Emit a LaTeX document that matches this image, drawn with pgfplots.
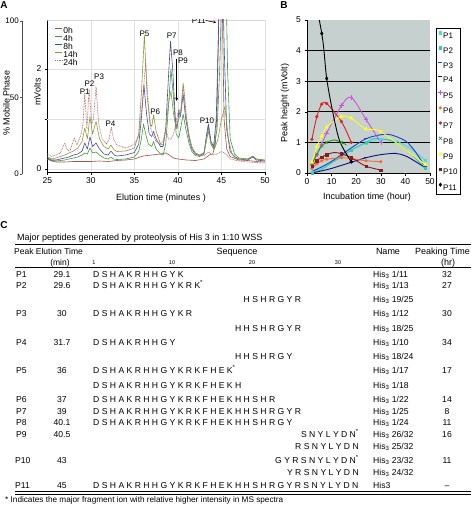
\documentclass[border=0pt]{standalone}
\usepackage{fontspec}
\setmainfont{Liberation Sans}
\usepackage{pgfplots}
\pgfplotsset{compat=1.18}
\usetikzlibrary{arrows.meta}
\pgfplotsset{/pgf/number format/assume math mode=true}
\definecolor{cA0}{HTML}{A0524D}
\definecolor{cA4}{HTML}{3C9C3C}
\definecolor{cA8}{HTML}{4848A8}
\definecolor{cA14}{HTML}{8C9C3C}
\definecolor{cA24}{HTML}{B86A6A}
\definecolor{bgB}{RGB}{197,208,207}
\definecolor{cP1}{HTML}{40E0E0}
\definecolor{cP2}{HTML}{33CCAA}
\definecolor{cP3}{HTML}{2040D0}
\definecolor{cP4}{HTML}{101080}
\definecolor{cP5}{HTML}{CC55DD}
\definecolor{cP6}{HTML}{FF6633}
\definecolor{cP7}{HTML}{E02020}
\definecolor{cP8}{HTML}{229922}
\definecolor{cP9}{HTML}{FFFF22}
\definecolor{cP10}{HTML}{8B1A1A}
\newcommand{\tf}{\fontsize{8.6}{10}\selectfont}
\newcommand{\hf}{\fontsize{9}{10}\selectfont}
\begin{document}
\begin{tikzpicture}
\path[use as bounding box] (0,0) rectangle (473pt,-506pt);

% ---------- Panel A: % Mobile Phase axis ----------
\begin{axis}[at={(22pt,-174pt)},anchor=south west,scale only axis,width=25pt,height=153pt,
  xmin=0,xmax=1,ymin=0,ymax=100,hide x axis,axis y line*=left,ytick={0,50,100},
  tick align=outside,major tick length=2pt,
  y axis line style={black!70,line width=0.8pt},tick style={black!70},
  yticklabel style={font=\fontsize{8}{9}\selectfont,inner sep=1pt}]
\end{axis}

% ---------- Panel A: chromatogram ----------
\begin{axis}[at={(47.3pt,-172pt)},anchor=south west,scale only axis,
  width=217.7pt,height=152pt,
  xmin=25,xmax=50,ymin=-0.06,ymax=2.98,
  xtick={25,30,35,40,45,50},ytick={0,2},
  extra y ticks={1},extra y tick labels={},extra y tick style={grid=major},
  axis x line*=bottom,axis y line*=left,
  axis line style={black,line width=0.8pt},
  tick align=outside,major tick length=2.5pt,tick style={black,line width=0.6pt},
  xmajorgrids,ymajorgrids,major grid style={gray!25,line width=0.5pt},
  tick label style={font=\fontsize{8.5}{10}\selectfont},
  legend style={at={(0.035,0.955)},anchor=north west,draw=none,fill=none,
    font=\fontsize{8.5}{8.5}\selectfont,row sep=0.6pt,inner sep=0pt,
    nodes={inner sep=0.6pt,text height=6.2pt,text depth=0pt}},
  legend cell align=left,
  legend image code/.code={\draw[#1] (0pt,2.5pt) -- (7pt,2.5pt);},
  every axis plot/.append style={line width=0.6pt,mark=none,line join=round}]
\draw[gray!30,line width=0.5pt] (rel axis cs:0,1) -- (rel axis cs:1,1) -- (rel axis cs:1,0);
\addplot[cA0] coordinates {(25,0.2)(25.5,0.16)(26,0.14)(27,0.14)(28,0.15)(29,0.15)(30,0.15)(31,0.16)(32,0.15)(33,0.17)(34,0.18)(35,0.2)(36,0.26)(36.5,0.27)(37,0.28)(38,0.3)(38.6,0.32)(39,0.28)(39.5,0.22)(40,0.2)(41,0.18)(42,0.17)(43,0.2)(43.6,0.28)(44,0.3)(44.3,0.5)(44.5,1.2)(44.7,3.2)(44.9,5)(45.1,3.2)(45.3,1.0)(45.6,0.4)(46,0.25)(47,0.18)(48,0.17)(49,0.15)(50,0.14)};
\addlegendentry{0h}
\addplot[cA4] coordinates {(25,0.2)(25.5,0.17)(26,0.16)(27,0.18)(27.5,0.2)(28,0.22)(28.5,0.24)(29,0.28)(29.3,0.32)(29.6,0.3)(29.9,0.42)(30.2,0.32)(30.6,0.34)(31,0.28)(31.5,0.22)(32,0.2)(32.3,0.24)(32.6,0.2)(33,0.19)(34,0.2)(35,0.24)(35.5,0.35)(35.8,0.6)(36.05,0.9)(36.3,0.7)(36.6,0.5)(37,0.45)(37.2,0.55)(37.5,0.4)(38,0.3)(38.3,0.28)(38.6,0.5)(38.9,1.2)(39.2,2.0)(39.5,1.4)(39.8,0.7)(40.1,0.62)(40.3,0.8)(40.6,1.1)(40.9,0.8)(41.3,0.5)(41.6,0.35)(42,0.27)(42.5,0.25)(43,0.3)(43.3,0.6)(43.5,0.85)(43.8,0.5)(44.1,0.4)(44.5,0.8)(44.8,2.0)(45.1,4)(45.4,5)(45.7,2)(46,0.6)(46.5,0.3)(47,0.22)(48,0.2)(48.6,0.25)(49,0.2)(50,0.18)};
\addlegendentry{4h}
\addplot[cA8] coordinates {(25,0.22)(25.5,0.18)(26,0.18)(27,0.22)(27.5,0.24)(28,0.28)(28.5,0.3)(29,0.36)(29.3,0.52)(29.6,0.4)(29.9,0.64)(30.2,0.45)(30.6,0.52)(31,0.4)(31.5,0.3)(32,0.28)(32.3,0.36)(32.7,0.28)(33,0.26)(34,0.28)(35,0.33)(35.5,0.5)(35.8,1.0)(36.1,1.68)(36.4,1.1)(36.7,0.7)(37,0.65)(37.2,0.75)(37.5,0.6)(38,0.45)(38.3,0.45)(38.6,0.8)(38.9,1.8)(39.15,2.55)(39.4,2.0)(39.7,1.0)(39.9,0.8)(40.1,1.15)(40.3,1.05)(40.6,1.5)(40.9,1.0)(41.3,0.6)(41.6,0.4)(42,0.3)(42.5,0.27)(43,0.32)(43.3,0.7)(43.5,0.9)(43.8,0.55)(44.1,0.45)(44.4,1.0)(44.7,3.0)(45.0,5)(45.3,2.5)(45.6,0.8)(46,0.35)(46.5,0.25)(47,0.2)(48,0.18)(48.6,0.24)(49,0.18)(50,0.16)};
\addlegendentry{8h}
\addplot[cA14] coordinates {(25,0.25)(25.5,0.2)(26,0.22)(27,0.28)(27.5,0.32)(28,0.36)(28.5,0.42)(29,0.55)(29.3,0.82)(29.6,0.6)(29.9,1.05)(30.2,0.7)(30.6,0.95)(31,0.6)(31.5,0.45)(32,0.4)(32.3,0.48)(32.7,0.38)(33,0.35)(34,0.36)(35,0.42)(35.5,0.7)(35.8,1.5)(36.15,2.68)(36.45,1.5)(36.8,0.9)(37.0,0.85)(37.2,1.08)(37.5,0.75)(38,0.5)(38.3,0.48)(38.6,0.8)(38.9,1.3)(39.2,1.55)(39.5,1.1)(39.8,0.8)(40.1,1.0)(40.3,1.1)(40.6,1.72)(40.9,1.1)(41.3,0.65)(41.6,0.42)(42,0.32)(42.5,0.28)(43,0.33)(43.3,0.6)(43.5,0.75)(43.8,0.5)(44.2,0.4)(44.6,0.6)(45.0,1.0)(45.4,1.25)(45.8,0.6)(46.2,0.3)(46.6,0.22)(47,0.2)(48,0.2)(48.6,0.26)(49,0.2)(50,0.17)};
\addlegendentry{14h}
\addplot[cA24,line width=0.7pt,dash pattern=on 0.8pt off 0.8pt] coordinates {(25,0.3)(25.5,0.25)(26,0.28)(26.5,0.32)(27.0,0.52)(27.3,0.38)(27.6,0.36)(28.1,0.62)(28.4,0.48)(28.9,0.7)(29.1,0.9)(29.3,1.52)(29.55,0.8)(29.8,1.6)(30.1,0.9)(30.3,1.0)(30.6,1.64)(30.9,0.9)(31.3,0.6)(31.8,0.5)(32.1,0.6)(32.35,0.84)(32.6,0.6)(33,0.48)(33.5,0.45)(34,0.42)(34.5,0.45)(35,0.5)(35.5,0.65)(35.9,1.3)(36.3,2.14)(36.6,1.3)(36.9,0.8)(37.1,0.7)(37.5,0.55)(38,0.5)(38.3,0.55)(38.6,0.82)(38.9,0.6)(39.2,0.6)(39.5,0.7)(39.8,0.95)(40.1,1.2)(40.3,1.1)(40.65,1.68)(41.0,1.0)(41.3,0.65)(41.6,0.45)(42,0.32)(42.5,0.27)(43,0.27)(43.5,0.34)(44,0.28)(44.5,0.3)(45,0.35)(45.5,0.3)(46,0.2)(47,0.16)(48,0.14)(49,0.13)(50,0.12)};
\addlegendentry{24h}
\begin{scope}[font=\fontsize{8}{8}\selectfont]
\node at (axis cs:29.3,1.55) {P1};
\node at (axis cs:29.85,1.71) {P2};
\node at (axis cs:30.95,1.84) {P3};
\node at (axis cs:32.26,0.91) {P4};
\node at (axis cs:36.16,2.71) {P5};
\node at (axis cs:37.4,1.14) {P6};
\node at (axis cs:39.28,2.66) {P7};
\node at (axis cs:40.0,2.33) {P8};
\node at (axis cs:40.58,2.16) {P9};
\node at (axis cs:43.34,0.96) {P10};
\node at (axis cs:42.4,2.97) {P11};
\end{scope}
\draw[-{Stealth[length=3.5pt,width=3pt]},line width=0.9pt] (axis cs:39.86,2.21) -- (axis cs:39.86,1.36);
\draw[-{Stealth[length=3pt,width=2.5pt]},line width=0.6pt] (axis cs:43.2,2.97) -- (axis cs:44.4,2.93);
\end{axis}

% ---------- Panel B ----------
\begin{axis}[at={(307pt,-173pt)},anchor=south west,scale only axis,width=123pt,height=153pt,
  xmin=0,xmax=50,ymin=0,ymax=5,
  xtick={0,10,20,30,40,50},ytick={0,1,2,3,4,5},
  extra y ticks={1,2,3,4},extra y tick labels={},
  extra y tick style={grid=major,major tick length=0pt},
  major grid style={black,line width=0.7pt},
  axis background/.style={fill=bgB},
  axis x line*=bottom,axis y line*=left,axis line style={black,line width=0.8pt},
  tick align=outside,major tick length=2.5pt,tick style={black,line width=0.6pt},
  tick label style={font=\fontsize{8.5}{10}\selectfont},
  legend style={at={(1.049,0.948)},anchor=north west,draw=black,fill=white,
    font=\fontsize{8}{8}\selectfont,inner xsep=2pt,inner ysep=3.5pt,row sep=7.4pt,
    nodes={inner sep=0.6pt,text height=5.8pt,text depth=0pt}},
  legend cell align=left,
  legend image code/.code={\draw[mark repeat=2,mark phase=2,#1] plot coordinates {(0pt,2.9pt) (3pt,2.9pt) (6pt,2.9pt)};}]
\addplot[cP1,line width=0.9pt,smooth,tension=0.5,forget plot] coordinates {(2,0.02)(6,0.15)(10,0.35)(14,0.55)(18,0.75)(24,0.98)(30,1.1)(36,1.05)(42,0.8)(48,0.42)};
\addplot[cP1,only marks,mark=square*,mark size=1.2pt] coordinates {(2,0.02)(24,0.98)(30,1.1)(48,0.42)};
\addlegendentry{P1}
\addplot[cP2,line width=0.9pt,smooth,tension=0.5,forget plot] coordinates {(2,0.0)(6,0.12)(10,0.33)(14,0.53)(18,0.75)(24,1.0)(27,1.12)(30,1.12)(36,1.0)(42,0.65)(48,0.15)};
\addplot[cP2,only marks,mark=square*,mark size=1.2pt] coordinates {(2,0.0)(18,0.75)(24,1.0)(48,0.15)};
\addlegendentry{P2}
\addplot[cP3,line width=0.9pt,smooth,tension=0.5,forget plot] coordinates {(2,0.05)(6,0.2)(10,0.38)(14,0.6)(18,0.82)(24,1.12)(30,1.25)(34,1.25)(40,1.05)(44,0.7)(48,0.2)};
\addplot[cP3,only marks,mark=-,mark size=2pt,line width=0.9pt] coordinates {(24,1.12)(48,0.2)};
\addlegendentry{P3}
\addplot[cP4,line width=0.9pt,smooth,tension=0.5,forget plot] coordinates {(2,0.0)(6,0.07)(10,0.15)(14,0.25)(18,0.35)(24,0.5)(30,0.6)(36,0.64)(40,0.56)(44,0.38)(48,0.18)};
\addplot[cP4,only marks,mark=-,mark size=2pt,line width=0.9pt] coordinates {(18,0.35)(24,0.5)};
\addlegendentry{P4}
\addplot[cP5,line width=0.9pt,smooth,tension=0.5,forget plot] coordinates {(2,0.3)(4,0.6)(6,0.95)(8,1.3)(14,2.2)(18,2.47)(24,1.75)(30,1.0)};
\addplot[cP5,only marks,mark=+,mark size=2.2pt,line width=0.6pt] coordinates {(2,0.3)(4,0.6)(6,0.95)(8,1.3)(14,2.2)(18,2.47)(24,1.75)(30,1.0)};
\addlegendentry{P5}
\addplot[cP6,line width=0.9pt,smooth,tension=0.5,forget plot] coordinates {(2,0.15)(4,0.3)(6,0.4)(8,0.45)(14,0.5)(18,0.47)(24,0.4)(30,0.37)};
\addplot[cP6,only marks,mark=*,mark size=1.4pt] coordinates {(2,0.15)(4,0.3)(6,0.4)(8,0.45)(14,0.5)(18,0.47)(24,0.4)(30,0.37)};
\addlegendentry{P6}
\addplot[cP7,line width=0.9pt,smooth,tension=0.5,forget plot] coordinates {(2,1.1)(4,1.84)(6,2.25)(8,2.27)(14,1.68)(18,1.0)};
\addplot[cP7,only marks,mark=*,mark size=1.4pt] coordinates {(2,1.1)(4,1.84)(6,2.25)(8,2.27)(14,1.68)(18,1.0)};
\addlegendentry{P7}
\addplot[cP8,line width=0.9pt,smooth,tension=0.5,forget plot] coordinates {(2,0.3)(4,0.62)(6,0.88)(8,1.0)(11,1.08)(14,1.0)(16,0.92)};
\addplot[cP8,only marks,mark=x,mark size=2pt,line width=0.6pt] coordinates {(2,0.3)(4,0.62)(6,0.88)(8,1.0)(14,1.0)};
\addlegendentry{P8}
\addplot[cP9,line width=0.9pt,smooth,tension=0.5,forget plot] coordinates {(2,0.35)(4,0.86)(6,1.2)(8,1.5)(14,1.85)(18,1.79)(24,1.43)(30,1.35)(48,0.28)};
\addplot[cP9,only marks,mark=triangle*,mark size=2pt] coordinates {(2,0.35)(4,0.86)(6,1.2)(8,1.5)(14,1.85)(18,1.79)(24,1.43)(30,1.35)(48,0.28)};
\addlegendentry{P9}
\addplot[cP10,line width=0.9pt,smooth,tension=0.5,forget plot] coordinates {(2,0.22)(4,0.4)(6,0.52)(8,0.6)(11,0.67)(14,0.63)(18,0.5)(24,0.22)(30,0.1)};
\addplot[cP10,only marks,mark=square*,mark size=1.2pt] coordinates {(2,0.22)(4,0.4)(6,0.52)(8,0.6)(14,0.63)(18,0.5)(24,0.22)(30,0.1)};
\addlegendentry{P10}
\addplot[black,line width=0.9pt,smooth,tension=0.5,forget plot] coordinates {(0,7.0)(6,4.56)(8,3.09)(10.7,1.9)(13.4,1.02)(18,0.37)};
\addplot[black,only marks,mark=diamond*,mark size=1.8pt] coordinates {(6,4.56)(8,3.09)(18,0.37)};
\addlegendentry{P11}
\end{axis}

% ---------- Free text ----------
\begin{scope}[x=1pt,y=-1pt]
\node[font=\fontsize{10}{10}\selectfont\bfseries] at (4,5.5) {A};
\node[font=\fontsize{10}{10}\selectfont\bfseries] at (284,5.5) {B};
\node[font=\fontsize{10}{10}\selectfont\bfseries] at (4,225.5) {C};
\node[rotate=90,font=\hf] at (6.5,103) {\% Mobile Phase};
\node[rotate=90,font=\hf] at (37.5,92) {mVolts};
\node[font=\hf] at (161,198) {Elution time (minutes )};
\node[rotate=90,font=\hf] at (285,103) {Peak height (mVolt)};
\node[font=\hf] at (367,197) {Incubation time (hour)};

% table
\begin{scope}[every node/.style={inner sep=0pt}]
\node[anchor=base west,font=\hf] at (17,240.5) {Major peptides generated by proteolysis of His 3 in 1:10 WSS};
\draw[line width=1.1pt] (15,244.3) -- (471,244.3);
\node[anchor=base west,font=\fontsize{8.5}{10}\selectfont] at (14,254.9) {Peak Elution Time};
\node[anchor=base,font=\hf] at (237,254.9) {Sequence};
\node[anchor=base,font=\hf] at (388,254.9) {Name};
\node[anchor=base,font=\hf] at (442.5,254.9) {Peaking Time};
\node[anchor=base,font=\fontsize{8.5}{10}\selectfont] at (60,265) {(min)};
\node[anchor=base,font=\hf] at (448,265) {(hr)};
\node[anchor=base,font=\fontsize{5.5}{6}\selectfont] at (94,264.5) {1};
\node[anchor=base,font=\fontsize{5.5}{6}\selectfont] at (172,264.5) {10};
\node[anchor=base,font=\fontsize{5.5}{6}\selectfont] at (252,264.5) {20};
\node[anchor=base,font=\fontsize{5.5}{6}\selectfont] at (338,264.5) {30};
\draw[line width=0.5pt] (15,267.3) -- (471,267.3);
\begin{scope}[every node/.append style={font=\tf}]
% P labels
\node[anchor=base west] at (16,277.4) {P1};
\node[anchor=base west] at (16,288.1) {P2};
\node[anchor=base west] at (16,316.8) {P3};
\node[anchor=base west] at (16,345.4) {P4};
\node[anchor=base west] at (16,373.8) {P5};
\node[anchor=base west] at (16,402.4) {P6};
\node[anchor=base west] at (16,414.1) {P7};
\node[anchor=base west] at (16,425.8) {P8};
\node[anchor=base west] at (16,437.4) {P9};
\node[anchor=base west] at (15,463.1) {P10};
\node[anchor=base west] at (15,488.1) {P11};
% elution
\node[anchor=base] at (62,277.4) {29.1};
\node[anchor=base] at (62,288.1) {29.6};
\node[anchor=base] at (62,316.8) {30};
\node[anchor=base] at (62,345.4) {31.7};
\node[anchor=base] at (62,373.8) {36};
\node[anchor=base] at (62,402.4) {37};
\node[anchor=base] at (62,414.1) {39};
\node[anchor=base] at (62,425.8) {40.1};
\node[anchor=base] at (62,437.4) {40.5};
\node[anchor=base] at (62,463.1) {43};
\node[anchor=base] at (62,488.1) {45};
% sequences
\node[anchor=base west] at (93,277.4) {D S H A K R H H G Y K};
\node[anchor=base west] at (93,288.1) {D S H A K R H H G Y K R K\textsuperscript{*}};
\node[anchor=base west] at (93,302.4) {\phantom{D S H A K R H H G Y K R K F H E K H }H S H R G Y R};
\node[anchor=base west] at (93,316.8) {D S H A K R H H G Y K R};
\node[anchor=base west] at (93,331.4) {\phantom{D S H A K R H H G Y K R K F H E K }H H S H R G Y R};
\node[anchor=base west] at (93,345.4) {D S H A K R H H G Y};
\node[anchor=base west] at (93,359.8) {\phantom{D S H A K R H H G Y K R K F H E K }H H S H R G Y};
\node[anchor=base west] at (93,373.8) {D S H A K R H H G Y K R K F H E K\textsuperscript{*}};
\node[anchor=base west] at (93,388.1) {D S H A K R H H G Y K R K F H E K H};
\node[anchor=base west] at (93,402.4) {D S H A K R H H G Y K R K F H E K H H S H R};
\node[anchor=base west] at (93,414.1) {D S H A K R H H G Y K R K F H E K H H S H R G Y R};
\node[anchor=base west] at (93,425.8) {D S H A K R H H G Y K R K F H E K H H S H R G Y};
\node[anchor=base east] at (359,437.4) {S N Y L Y D N\textsuperscript{*}};
\node[anchor=base east] at (359,449.8) {R S N Y L Y D N};
\node[anchor=base east] at (359,463.1) {G Y R S N Y L Y D N\textsuperscript{*}};
\node[anchor=base east] at (359,475.8) {Y R S N Y L Y D N};
\node[anchor=base west] at (93,488.1) {D S H A K R H H G Y K R K F H E K H H S H R G Y R S N Y L Y D N};
% names
\node[anchor=base west] at (373,277.4) {His\textsubscript{3} 1/11};
\node[anchor=base west] at (373,288.1) {His\textsubscript{3} 1/13};
\node[anchor=base west] at (373,302.4) {His\textsubscript{3} 19/25};
\node[anchor=base west] at (373,316.8) {His\textsubscript{3} 1/12};
\node[anchor=base west] at (373,331.4) {His\textsubscript{3} 18/25};
\node[anchor=base west] at (373,345.4) {His\textsubscript{3} 1/10};
\node[anchor=base west] at (373,359.8) {His\textsubscript{3} 18/24};
\node[anchor=base west] at (373,373.8) {His\textsubscript{3} 1/17};
\node[anchor=base west] at (373,388.1) {His\textsubscript{3} 1/18};
\node[anchor=base west] at (373,402.4) {His\textsubscript{3} 1/22};
\node[anchor=base west] at (373,414.1) {His\textsubscript{3} 1/25};
\node[anchor=base west] at (373,425.8) {His\textsubscript{3} 1/24};
\node[anchor=base west] at (373,437.4) {His\textsubscript{3} 26/32};
\node[anchor=base west] at (373,449.8) {His\textsubscript{3} 25/32};
\node[anchor=base west] at (373,463.1) {His\textsubscript{3} 23/32};
\node[anchor=base west] at (373,475.8) {His\textsubscript{3} 24/32};
\node[anchor=base west] at (373,488.1) {His3};
% peaking time
\node[anchor=base] at (447,277.4) {32};
\node[anchor=base] at (447,288.1) {27};
\node[anchor=base] at (447,316.8) {30};
\node[anchor=base] at (447,345.4) {34};
\node[anchor=base] at (447,373.8) {17};
\node[anchor=base] at (447,402.4) {14};
\node[anchor=base] at (447,414.1) {8};
\node[anchor=base] at (447,425.8) {11};
\node[anchor=base] at (447,437.4) {16};
\node[anchor=base] at (447,463.1) {11};
\node[anchor=base] at (447,488.1) {--};
\end{scope}
\draw[line width=0.5pt] (15,491.7) -- (471,491.7);
\draw[line width=0.5pt] (15,494) -- (471,494);
\node[anchor=base west,font=\fontsize{8.2}{9}\selectfont] at (5,502.8) {* Indicates the major fragment ion with relative higher intensity in MS spectra};
\end{scope}
\end{scope}
\end{tikzpicture}
\end{document}
